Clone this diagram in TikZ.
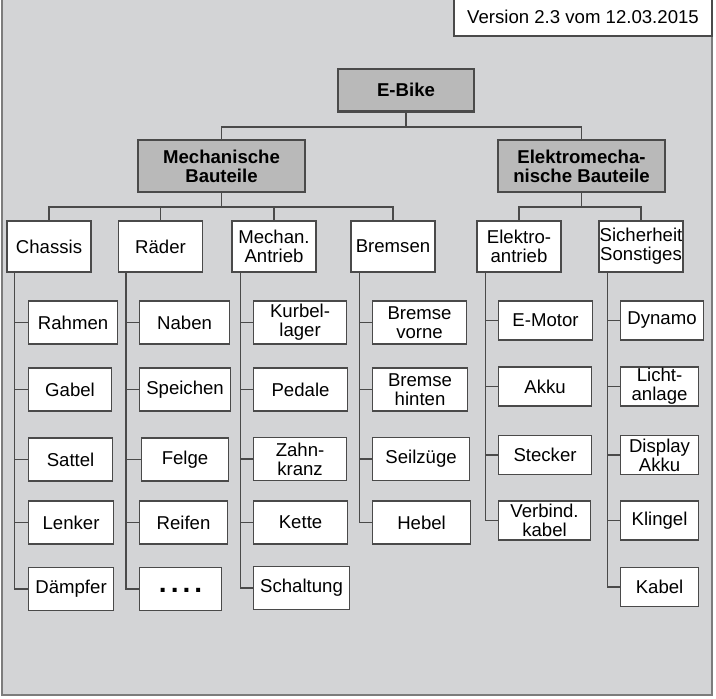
\documentclass[tikz,border=0pt]{standalone}
\usepackage{fontspec}
\setmainfont{Liberation Sans}
\usetikzlibrary{calc}
\definecolor{panel}{HTML}{D3D4D6}
\definecolor{headfill}{HTML}{B9B9B9}
\definecolor{edge}{HTML}{4A4A4A}
\definecolor{frameedge}{HTML}{7C7C7C}
\begin{document}
\begin{tikzpicture}[x=1pt,y=-1pt,
  font=\fontsize{18.6}{18.8}\selectfont,
  every node/.style={inner sep=0pt, align=center},
  head/.style={draw=edge, line width=1.3pt, fill=headfill, font=\fontsize{18.6}{18.8}\selectfont\bfseries},
  group/.style={draw=edge, line width=1.1pt, fill=white, minimum width=84pt, minimum height=51pt},
  leaf/.style={draw=edge, line width=1.1pt, fill=white, anchor=west, minimum height=43pt},
  eleaf/.style={leaf, minimum height=39pt},
  link/.style={draw=edge, line width=1.1pt}]
\useasboundingbox (0,0) rectangle (716,699);
\fill[white] (0,0) rectangle (716,699);
% panel
\draw[fill=panel, draw=frameedge, line width=2pt] (2,-3) rectangle (712,695);
% version stamp
\node[draw=edge, line width=1.1pt, fill=white, minimum width=258pt, minimum height=38pt] (ver) at (583,17) {Version 2.3 vom 12.03.2015};

% top levels
\node[head, minimum width=136pt, minimum height=42pt] (ebike) at (406,90) {E-Bike};
\draw[edge, line width=1.2pt] ([yshift=-1pt]ebike.south west) -- ([yshift=-1pt]ebike.south east);
\node[head, minimum width=167pt, minimum height=52pt] (mech) at (221.5,166) {Mechanische\\Bauteile};
\node[head, minimum width=167pt, minimum height=52pt] (elek) at (581.5,166) {Elektromecha-\\nische Bauteile};

% groups
\node[group] (chassis) at (49,246.5) {Chassis};
\node[group] (raeder) at (160.5,246.5) {Räder};
\node[group] (mantrieb) at (274,246.5) {Mechan.\\Antrieb};
\node[group] (bremsen) at (393,246.5) {Bremsen};
\node[group] (eantrieb) at (519,246.5) {Elektro-\\antrieb};
\node[group] (sicher) at (641,246.5) {Sicherheit\\Sonstiges};

% tree connectors
\coordinate (bus0) at (0,127);
\coordinate (bus1) at (0,207);
\draw[link] (ebike.south) -- (ebike.south |- bus0);
\draw[link] (mech.north) |- (ebike.south |- bus0) -| (elek.north);
\draw[link] (mech.south) -- (mech.south |- bus1);
\draw[link] (chassis.north) |- (raeder.north |- bus1) -- (raeder.north);
\draw[link] (raeder.north |- bus1) -| (mantrieb.north);
\draw[link] (mantrieb.north |- bus1) -| (bremsen.north);
\draw[link] (elek.south) -- (elek.south |- bus1);
\draw[link] (eantrieb.north) |- (sicher.north |- bus1) -- (sicher.north);

% Chassis
\node[leaf, minimum width=89pt] (rahmen) at (28,322.5) {Rahmen};
\node[leaf, minimum width=83pt] (gabel) at (28,389.5) {Gabel};
\node[leaf, minimum width=84pt] (sattel) at (28,459.5) {Sattel};
\node[leaf, minimum width=85pt] (lenker) at (28,522.5) {Lenker};
\node[leaf, minimum width=85pt] (daempfer) at (28,589) {Dämpfer};
% Räder
\node[leaf, minimum width=90pt] (naben) at (139,322.5) {Naben};
\node[leaf, minimum width=91pt] (speichen) at (139,389.5) {Speichen};
\node[leaf, minimum width=87pt] (felge) at (141,459.5) {Felge};
\node[leaf, minimum width=88pt] (reifen) at (139,522.5) {Reifen};
\node[leaf, minimum width=82pt] (mehr) at (139,589) {\fontsize{28}{28}\selectfont\bfseries\raisebox{-6pt}{.\hspace{4pt}.\hspace{4pt}.\hspace{4pt}.}};
% Mechan. Antrieb
\node[leaf, minimum width=93pt] (kurbel) at (253,322.5) {Kurbel-\\lager};
\node[leaf, minimum width=94pt] (pedale) at (253,389.5) {Pedale};
\node[leaf, minimum width=93pt] (zahnkranz) at (253,459) {Zahn-\\kranz};
\node[leaf, minimum width=94pt] (kette) at (253,522.5) {Kette};
\node[leaf, minimum width=96pt] (schaltung) at (253,588) {Schaltung};
% Bremsen
\node[leaf, minimum width=94pt] (bvorne) at (372,322.5) {Bremse\\vorne};
\node[leaf, minimum width=95pt] (bhinten) at (372,389.5) {Bremse\\hinten};
\node[leaf, minimum width=97pt] (seilzuege) at (372,459) {Seilzüge};
\node[leaf, minimum width=98pt] (hebel) at (372,522.5) {Hebel};
% Elektroantrieb
\node[eleaf, minimum width=94pt] (emotor) at (498,320.5) {E-Motor};
\node[eleaf, minimum width=93pt] (akku) at (498,386.5) {Akku};
\node[eleaf, minimum width=93pt] (stecker) at (498,455) {Stecker};
\node[eleaf, minimum width=92pt] (vkabel) at (498,520.5) {Verbind.\\kabel};
% Sicherheit / Sonstiges
\node[eleaf, minimum width=83pt] (dynamo) at (620,320.5) {Dynamo};
\node[eleaf, minimum width=78pt] (licht) at (620,386.5) {Licht-\\anlage};
\node[eleaf, minimum width=78pt] (display) at (620,455) {Display\\Akku};
\node[eleaf, minimum width=78pt] (klingel) at (620,520.5) {Klingel};
\node[eleaf, minimum width=78pt] (kabel) at (620,587) {Kabel};

% vertical trunks of each group
\coordinate (tC) at ([xshift=8pt]chassis.south west);
\coordinate (tR) at ([xshift=8pt]raeder.south west);
\coordinate (tM) at ([xshift=9pt]mantrieb.south west);
\coordinate (tB) at ([xshift=9pt]bremsen.south west);
\coordinate (tE) at ([xshift=9pt]eantrieb.south west);
\coordinate (tS) at ([xshift=9pt]sicher.south west);
\draw[link] (tC) |- (daempfer.west);
\draw[link] (tR) |- (mehr.west);
\draw[link] (tM) |- (schaltung.west);
\draw[link] (tB) |- (hebel.west);
\draw[link] (tE) |- (vkabel.west);
\draw[link] (tS) |- (kabel.west);
\foreach \n in {rahmen,gabel,sattel,lenker} \draw[link] (\n.west) -- (\n.west -| tC);
\foreach \n in {naben,speichen,felge,reifen} \draw[link] (\n.west) -- (\n.west -| tR);
\foreach \n in {kurbel,pedale,zahnkranz,kette} \draw[link] (\n.west) -- (\n.west -| tM);
\foreach \n in {bvorne,bhinten,seilzuege} \draw[link] (\n.west) -- (\n.west -| tB);
\foreach \n in {emotor,akku,stecker} \draw[link] (\n.west) -- (\n.west -| tE);
\foreach \n in {dynamo,licht,display,klingel} \draw[link] (\n.west) -- (\n.west -| tS);
\end{tikzpicture}
\end{document}
